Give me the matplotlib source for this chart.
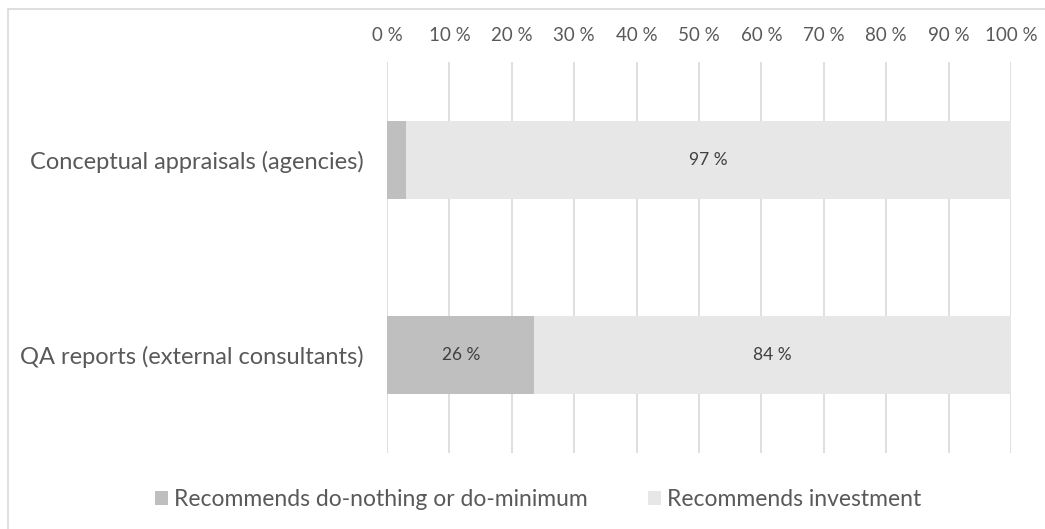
import matplotlib.pyplot as plt
from matplotlib.patches import Rectangle
import numpy as np

categories = ["Conceptual appraisals (agencies)", "QA reports (external consultants)"]
do_nothing = [3, 26]
investment = [97, 84]
# labels shown on the bars (None = no label)
do_nothing_labels = [None, "26 %"]
investment_labels = ["97 %", "84 %"]

text_col = "#595959"
dark_col = "#BFBFBF"
light_col = "#E7E7E7"
grid_col = "#D9D9D9"

plt.rcParams['font.family'] = ['Lato', 'DejaVu Sans']

fig = plt.figure(figsize=(10.45, 5.29), dpi=100)
ax = fig.add_axes([387 / 1045, 1 - 453 / 529, 624 / 1045, 391 / 529])

# chart area frame: only top/left visible in the crop
fig.patches.append(Rectangle((8 / 1045, -0.1), 1.2, (1 - 9 / 529) + 0.1,
                             transform=fig.transFigure, fill=False,
                             edgecolor="#D9D9D9", linewidth=1.2))

totals = np.array(do_nothing) + np.array(investment)
dn_pct = np.array(do_nothing) / totals * 100
inv_pct = np.array(investment) / totals * 100
y = np.arange(len(categories))

b1 = ax.barh(y, dn_pct, height=0.4, color=dark_col, label="Recommends do-nothing or do-minimum", zorder=2)
b2 = ax.barh(y, inv_pct, left=dn_pct, height=0.4, color=light_col, label="Recommends investment", zorder=2)

for i in range(len(categories)):
    if do_nothing_labels[i]:
        ax.text(dn_pct[i] / 2, y[i], do_nothing_labels[i], ha='center', va='center',
                fontsize=12.5, color="#404040", zorder=3)
    if investment_labels[i]:
        ax.text(dn_pct[i] + inv_pct[i] / 2, y[i], investment_labels[i], ha='center', va='center',
                fontsize=12.5, color="#404040", zorder=3)

ax.set_xlim(0, 100)
ax.set_ylim(1.5, -0.5)
ax.set_xticks(np.arange(0, 101, 10))
ax.set_xticklabels([f"{v} %" for v in range(0, 101, 10)])
ax.xaxis.tick_top()
ax.tick_params(axis='x', length=0, pad=13, labelsize=13.5, labelcolor=text_col)
ax.set_yticks(y)
ax.set_yticklabels(categories)
ax.tick_params(axis='y', length=0, pad=17, labelsize=17, labelcolor=text_col)
ax.grid(axis='x', color=grid_col, linewidth=1.2, zorder=0)
ax.set_axisbelow(True)
for s in ax.spines.values():
    s.set_visible(False)

leg = fig.legend(handles=[b1, b2], loc='center', bbox_to_anchor=(0.515, 1 - 500 / 529),
                 ncol=2, frameon=False, fontsize=16.5, handlelength=0.56, handleheight=0.56,
                 handletextpad=0.3, columnspacing=2.6)
for t in leg.get_texts():
    t.set_color(text_col)

fig.savefig("out.png", dpi=100)
